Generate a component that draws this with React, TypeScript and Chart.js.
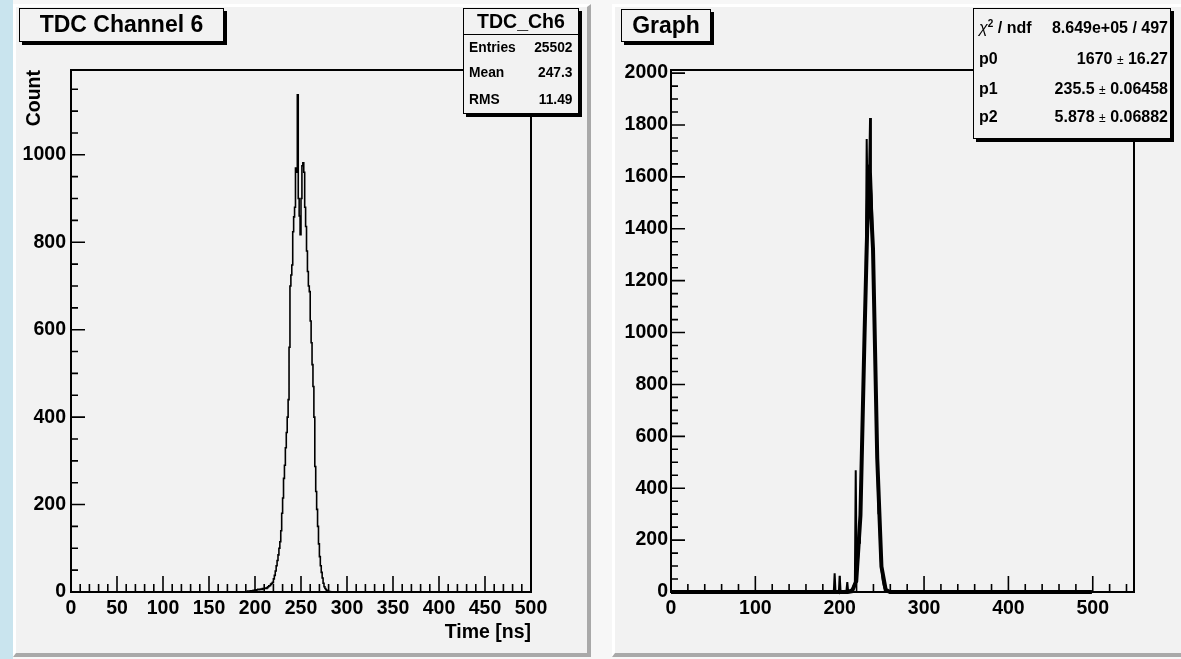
import React, { useEffect, useRef } from 'react';
import { Chart, registerables } from 'chart.js';

Chart.register(...registerables);

// ---------------- DATA ----------------
// Left pad: TDC Channel 6 histogram, 1 ns bins from 0 to 500 ns
const histXMin = 0;
const histXMax = 500;
const histBinWidth = 1;
const histFirstBin = 190; // bin index of the first entry in histCounts
const histCounts = [
  1, 0, 2, 1, 2, 3, 2, 3, 4, 3, // 190-199
  5, 4, 5, 6, 5, 6, 7, 6, 8, 7, // 200-209
  8, 9, 8, 10, 12, 14, 15, 18, 20, 22, // 210-219
  30, 38, 48, 60, 72, 85, 100, 115, 140, 180, // 220-229
  215, 260, 290, 330, 365, 400, 440, 560, 700, 725, // 230-239
  748, 824, 858, 880, 970, 960, 1137, 900, 860, 817, // 240-249
  900, 975, 982, 960, 880, 836, 780, 733, 700, 687, // 250-259
  620, 570, 520, 470, 400, 287, 230, 189, 150, 110, // 260-269
  81, 60, 45, 32, 20, 12, 8, 5, 3, 2, // 270-279
  1, 1, 0, 0, 0, 0, // 280-285
];
const histYMax = 1194;
const histXTicks = [0, 50, 100, 150, 200, 250, 300, 350, 400, 450, 500];
const histYTicks = [0, 200, 400, 600, 800, 1000];
const histStatsLabels = ['Entries', 'Mean', 'RMS'];
const histStatsValues = ['25502', '247.3', '11.49'];

// Right pad: Graph with gaussian fit
const graphNPoints = 500;
const graphFirstX = 190; // x of the first entry in graphValues, all others are 0
const graphValues = [
  0, 0, 2, 0, 72, 2, 0, 0, 4, 0, // 190-199
  62, 3, 0, 0, 2, 0, 3, 0, 5, 38, // 200-209
  3, 6, 2, 8, 10, 12, 20, 30, 45, 469, // 210-219
  100, 95, 140, 190, 260, 370, 470, 600, 760, 930, // 220-229
  1090, 1270, 1746, 1500, 1600, 1640, 1827, 1620, 1530, 1380, // 230-239
  1230, 1070, 890, 730, 570, 440, 300, 327, 160, 110, // 240-249
  75, 45, 28, 15, 8, 4, 2, 0, // 250-257
];
const fitX = [0, 209.6, 214.6, 219.6, 224.6, 229.5, 234.5, 239.5, 244.5, 249.5, 254.5, 259.5, 499];
const fitY = [0, 0, 3, 41, 295, 999, 1647, 1321, 516, 98, 9, 0, 0];
const graphXMax = 548.9;
const graphYMax = 2012;
const graphXTicks = [0, 100, 200, 300, 400, 500];
const graphYTicks = [0, 200, 400, 600, 800, 1000, 1200, 1400, 1600, 1800, 2000];
const fitStatsLabels = ['p0', 'p1', 'p2'];
const fitStatsValues = [['1670', '16.27'], ['235.5', '0.06458'], ['5.878', '0.06882']];
const chi2Value = '8.649e+05 / 497';

// ---------------- STYLE ----------------
const FONT = '"Liberation Sans", Arial, Helvetica, sans-serif';
const PAD_BG = '#f2f2f2';

type TickCfg = {
  xMajor: number; xMinor: number; yMajor: number; yMinor: number;
  xMajLen: number; xMinLen: number; yMajLen: number; yMinLen: number;
  xTickMax?: number;
};

function rootFramePlugin(cfg: TickCfg) {
  return {
    id: 'rootFrame',
    afterDatasetsDraw(chart: any) {
      const { ctx, chartArea: a, scales } = chart;
      const xs = scales.x;
      const ys = scales.y;
      ctx.save();
      ctx.strokeStyle = '#000';
      ctx.lineWidth = 1.6;
      ctx.beginPath();
      const xEnd = cfg.xTickMax ?? xs.max;
      for (let i = 0; ; i++) {
        const v = xs.min + i * cfg.xMinor;
        if (v > xEnd + 1e-6) break;
        const px = xs.getPixelForValue(v);
        const major = Math.abs(v / cfg.xMajor - Math.round(v / cfg.xMajor)) < 1e-6;
        const len = major ? cfg.xMajLen : cfg.xMinLen;
        ctx.moveTo(px, a.bottom);
        ctx.lineTo(px, a.bottom - len);
      }
      for (let i = 0; ; i++) {
        const v = ys.min + i * cfg.yMinor;
        if (v > ys.max + 1e-6) break;
        const py = ys.getPixelForValue(v);
        const major = Math.abs(v / cfg.yMajor - Math.round(v / cfg.yMajor)) < 1e-6;
        const len = major ? cfg.yMajLen : cfg.yMinLen;
        ctx.moveTo(a.left, py);
        ctx.lineTo(a.left + len, py);
      }
      ctx.stroke();
      ctx.lineWidth = 2;
      ctx.strokeRect(a.left, a.top, a.right - a.left, a.bottom - a.top);
      ctx.restore();
    },
  };
}

const tickFont = { family: FONT, size: 19.5, weight: 'bold' as const };
const titleFont = { family: FONT, size: 19.5, weight: 'bold' as const };

function makeHistConfig(): any {
  const data: { x: number; y: number }[] = [];
  const nBins = Math.round((histXMax - histXMin) / histBinWidth);
  for (let b = 0; b < nBins; b++) {
    const i = b - histFirstBin;
    const c = i >= 0 && i < histCounts.length ? histCounts[i] : 0;
    data.push({ x: histXMin + b * histBinWidth, y: c });
  }
  data.push({ x: histXMax, y: 0 });
  return {
    type: 'line',
    data: {
      datasets: [
        { data, stepped: 'before', borderColor: '#000', borderWidth: 1.6, pointRadius: 0, fill: false, clip: 6 },
      ],
    },
    options: {
      animation: false,
      responsive: false,
      events: [],
      layout: { padding: { left: 0, top: 62, right: 57, bottom: 0 } },
      plugins: { legend: { display: false }, tooltip: { enabled: false }, title: { display: false } },
      scales: {
        x: {
          type: 'linear',
          min: histXMin,
          max: histXMax,
          grid: { display: false, drawTicks: false },
          border: { display: false },
          ticks: { autoSkip: false, maxRotation: 0, padding: 4.5, color: '#000', font: tickFont, callback: (v: number) => String(v) },
          afterBuildTicks: (s: any) => { s.ticks = histXTicks.map((v) => ({ value: v })); },
          afterFit: (s: any) => { s.height = 61; },
          title: { display: true, text: 'Time [ns]', align: 'end', color: '#000', font: titleFont, padding: { top: 0, bottom: 9 } },
        },
        y: {
          type: 'linear',
          min: 0,
          max: histYMax,
          grid: { display: false, drawTicks: false },
          border: { display: false },
          ticks: { autoSkip: false, padding: 5, color: '#000', font: tickFont, callback: (v: number) => String(v) },
          afterBuildTicks: (s: any) => { s.ticks = histYTicks.map((v) => ({ value: v })); },
          afterFit: (s: any) => { s.width = 55; },
          title: { display: true, text: 'Count', align: 'end', color: '#000', font: titleFont, padding: { top: 7, bottom: 0 } },
        },
      },
    },
    plugins: [rootFramePlugin({ xMajor: 50, xMinor: 10, yMajor: 200, yMinor: 50, xMajLen: 16, xMinLen: 8, yMajLen: 14, yMinLen: 7 })],
  };
}

function makeGraphConfig(): any {
  const points: { x: number; y: number }[] = [];
  for (let i = 0; i < graphNPoints; i++) {
    const j = i - graphFirstX;
    points.push({ x: i, y: j >= 0 && j < graphValues.length ? graphValues[j] : 0 });
  }
  const fit = fitX.map((x, i) => ({ x, y: fitY[i] }));
  return {
    type: 'line',
    data: {
      datasets: [
        { data: points, borderColor: '#000', borderWidth: 2, pointRadius: 0, fill: false, tension: 0, clip: 6 },
        { data: fit, borderColor: '#000', borderWidth: 4, pointRadius: 0, fill: false, tension: 0, clip: 6 },
      ],
    },
    options: {
      animation: false,
      responsive: false,
      events: [],
      layout: { padding: { left: 0, top: 62, right: 47, bottom: 0 } },
      plugins: { legend: { display: false }, tooltip: { enabled: false }, title: { display: false } },
      scales: {
        x: {
          type: 'linear',
          min: 0,
          max: graphXMax,
          grid: { display: false, drawTicks: false },
          border: { display: false },
          ticks: { autoSkip: false, maxRotation: 0, padding: 4.5, color: '#000', font: tickFont, callback: (v: number) => String(v) },
          afterBuildTicks: (s: any) => { s.ticks = graphXTicks.map((v) => ({ value: v })); },
          afterFit: (s: any) => { s.height = 61; },
        },
        y: {
          type: 'linear',
          min: 0,
          max: graphYMax,
          grid: { display: false, drawTicks: false },
          border: { display: false },
          ticks: { autoSkip: false, padding: 3, color: '#000', font: tickFont, callback: (v: number) => String(v) },
          afterBuildTicks: (s: any) => { s.ticks = graphYTicks.map((v) => ({ value: v })); },
          afterFit: (s: any) => { s.width = 56; },
        },
      },
    },
    plugins: [rootFramePlugin({ xMajor: 100, xMinor: 20, yMajor: 200, yMinor: 50, xMajLen: 16, xMinLen: 8, yMajLen: 14, yMinLen: 7, xTickMax: 548 })],
  };
}

function ChartCanvas(props: { make: () => any; left: number; top: number; width: number; height: number }) {
  const ref = useRef<HTMLCanvasElement>(null);
  useEffect(() => {
    const chart = new Chart(ref.current as HTMLCanvasElement, props.make());
    return () => chart.destroy();
  }, []);
  return (
    <canvas
      ref={ref}
      width={props.width}
      height={props.height}
      style={{ position: 'absolute', left: props.left, top: props.top, width: props.width, height: props.height }}
    />
  );
}

const boxStyle = (left: number, top: number, width: number, height: number): React.CSSProperties => ({
  position: 'absolute',
  left,
  top,
  width,
  height,
  boxSizing: 'border-box',
  border: '1.5px solid #000',
  background: PAD_BG,
  boxShadow: '3px 3px 0 #000',
  fontFamily: FONT,
  fontWeight: 'bold',
  color: '#000',
});

function Pad(props: { left: number; width: number }) {
  return (
    <div
      style={{
        position: 'absolute',
        left: props.left,
        top: 4,
        width: props.width,
        height: 653,
        boxSizing: 'border-box',
        background: PAD_BG,
        borderStyle: 'solid',
        borderWidth: '3px 4px 4px 3px',
        borderColor: '#ffffff #a9a9a9 #a9a9a9 #ffffff',
      }}
    />
  );
}

export default function App() {
  const rowText = (top: number, h: number): React.CSSProperties => ({
    position: 'absolute',
    top,
    height: h,
    lineHeight: h + 'px',
    whiteSpace: 'nowrap',
  });
  return (
    <div
      style={{
        position: 'absolute',
        left: 0,
        top: 0,
        width: 1181,
        height: 659,
        overflow: 'hidden',
        background: '#f7f7f7',
      }}
    >
      <div style={{ position: 'absolute', left: 0, top: 0, width: 13, height: 659, background: '#c9e4ee' }} />
      <Pad left={13} width={578} />
      <Pad left={612} width={580} />

      <ChartCanvas make={makeHistConfig} left={16} top={8} width={572} height={645} />
      <ChartCanvas make={makeGraphConfig} left={615} top={8} width={566} height={645} />

      {/* Left title */}
      <div style={{ ...boxStyle(19, 8, 205, 33.5), fontSize: 23, textAlign: 'center', lineHeight: '31px' }}>TDC Channel 6</div>
      {/* Left stats */}
      <div style={{ ...boxStyle(463, 8, 116, 105.5) }}>
        <div style={{ position: 'absolute', left: 0, right: 0, top: 0, height: 25, lineHeight: '25px', textAlign: 'center', fontSize: 19.5, borderBottom: '1.5px solid #000' }}>TDC_Ch6</div>
        {histStatsLabels.map((lab, i) => {
          const cy = [48.3, 73.5, 100][i] - 8 - 1.5;
          return (
            <React.Fragment key={lab}>
              <div style={{ ...rowText(cy - 9, 18), left: 5, fontSize: 13.8 }}>{lab}</div>
              <div style={{ ...rowText(cy - 9, 18), right: 5.5, fontSize: 13.8, textAlign: 'right' }}>{histStatsValues[i]}</div>
            </React.Fragment>
          );
        })}
      </div>

      {/* Right title */}
      <div style={{ ...boxStyle(621, 9, 90, 33), fontSize: 23, textAlign: 'center', lineHeight: '30px' }}>Graph</div>
      {/* Right stats */}
      <div style={{ ...boxStyle(973, 8, 198, 130.5) }}>
        <div style={{ ...rowText(28.5 - 8 - 1.5 - 10, 20), left: 5, fontSize: 16 }}>
          <span style={{ fontWeight: 'normal', fontStyle: 'italic' }}>χ</span>
          <sup style={{ fontSize: 10, verticalAlign: 'top', position: 'relative', top: -4 }}>2</sup> / ndf
        </div>
        <div style={{ ...rowText(28.5 - 8 - 1.5 - 10, 20), right: 2, fontSize: 16, textAlign: 'right' }}>{chi2Value}</div>
        {fitStatsLabels.map((lab, i) => {
          const cy = [59.5, 89, 117.5][i] - 8 - 1.5;
          return (
            <React.Fragment key={lab}>
              <div style={{ ...rowText(cy - 10, 20), left: 5, fontSize: 16 }}>{lab}</div>
              <div style={{ ...rowText(cy - 10, 20), right: 2, fontSize: 16, textAlign: 'right' }}>
                {fitStatsValues[i][0]} <span style={{ fontSize: 12, fontWeight: 'normal' }}>±</span> {fitStatsValues[i][1]}
              </div>
            </React.Fragment>
          );
        })}
      </div>
    </div>
  );
}
